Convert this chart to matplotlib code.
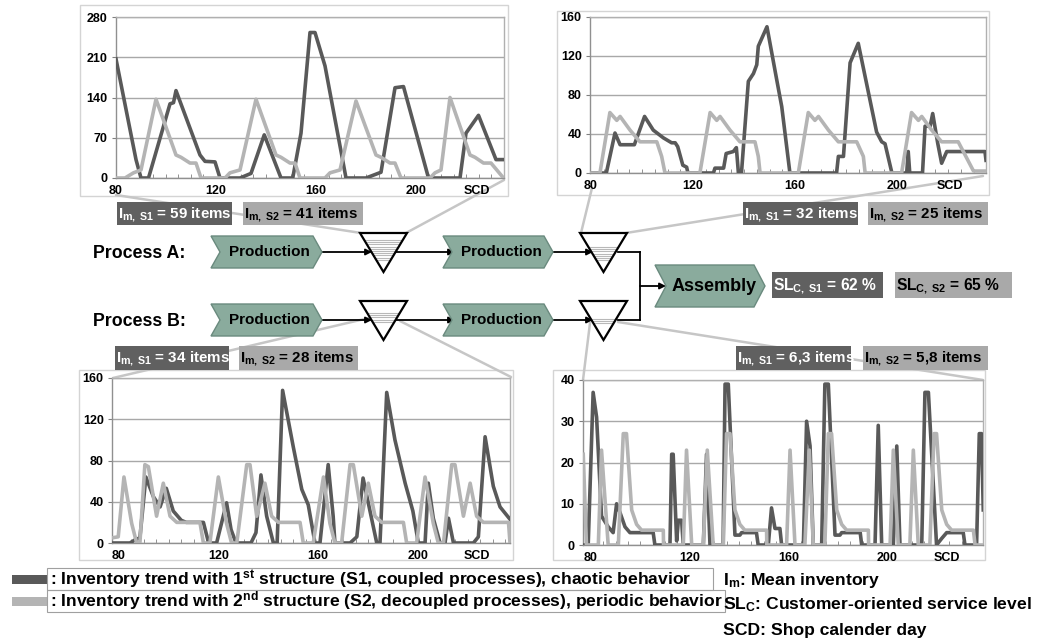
import matplotlib
matplotlib.use('Agg')
import matplotlib.pyplot as plt
from matplotlib.patches import Polygon, Rectangle, FancyArrowPatch
import numpy as np

plt.rcParams['font.family'] = ['Liberation Sans', 'DejaVu Sans']
plt.rcParams['mathtext.fontset'] = 'custom'
plt.rcParams['mathtext.rm'] = 'Liberation Sans'
plt.rcParams['mathtext.bf'] = 'Liberation Sans:bold'
plt.rcParams['mathtext.it'] = 'Liberation Sans:italic'

# ---------------- data ----------------
x_ticks = [80, 120, 160, 200]
x_tick_labels = ['80', '120', '160', '200']
scd_label = 'SCD'

# Process A, buffer 1 (top-left)
tl_s1_day = [80, 88, 90, 93, 101.6, 103, 104, 113.6, 115.6, 119.6, 121.6, 129.6, 134, 139.3, 146, 150.7, 154, 157.6,
             159.6, 163.6, 172, 180, 186, 191.6, 195, 205, 217.6, 220, 225, 232, 235]
tl_s1_val = [207, 32, 0, 0, 129, 131, 152, 40, 29, 28, 0, 0, 8, 75, 0, 0, 78, 253,
             253, 195, 0, 0, 10, 157, 159, 0, 0, 78, 109, 32, 32]
tl_s2_day = [80, 83.6, 87, 90, 96, 104, 106, 109.6, 112, 114, 123.6, 125.6, 129.6, 136, 144, 146, 149.6, 151.6, 153.6,
             163.6, 165.6, 169.6, 176, 184, 186, 189.6, 191.6, 194, 205.6, 207.6, 210, 213.6, 221.6, 223.6, 227, 230, 235]
tl_s2_val = [0, 0, 9, 14, 137, 40, 36, 26, 26, 0, 0, 9, 14, 137, 40, 36, 26, 26, 0,
             0, 9, 14, 134, 40, 36, 26, 26, 0, 0, 9, 14, 140, 40, 36, 26, 26, 0]

# Process A, buffer 2 (top-right)
tr_s1_day = [79.6, 86, 89.4, 91.4, 97, 101, 104.4, 108.4, 111.6, 113, 114, 116, 117.5, 118, 128, 128.6, 132, 133,
             135.8, 137, 137.8, 139, 141.7, 143.7, 145, 145.6, 149, 152.8, 154.8, 158, 176.3, 177, 179, 181.6,
             184.8, 192, 194, 195.3, 198, 203.8, 204.4, 205, 210, 211, 213, 214, 216, 217.5, 219.5, 234.5, 234.9]
tr_s1_val = [0, 0, 41, 29, 29, 58, 44, 36, 31, 31, 27, 8, 6, 0, 0, 5, 5, 20,
             22, 26, 0, 0, 94, 102, 111, 130, 150, 96, 68, 0, 0, 17, 17, 113,
             133, 42, 32, 30, 0, 0, 22, 0, 0, 48, 48, 61, 30, 10, 22, 22, 13]
tr_s2_day = [79.6, 83.5, 87.4, 90.1, 91.4, 95.3, 99.2, 105.8, 107.7, 109, 122.7, 126.7, 129.3, 130.6, 134.5, 138.4,
             144.3, 145.6, 146.3, 161.3, 165.2, 167.8, 169.2, 173.1, 177, 184.2, 186.8, 187.5, 201.8, 205.7, 208.4,
             209.7, 213.6, 217.5, 224, 230, 234.9]
tr_s2_val = [0, 0, 62, 54, 58, 44, 32, 32, 17, 0, 0, 62, 54, 58, 44, 32,
             32, 17, 0, 0, 62, 54, 58, 44, 32, 32, 17, 0, 0, 62, 54,
             58, 44, 32, 32, 2, 2]

# Process B, buffer 1 (bottom-left)
bl_s1_day = [77.2, 84.4, 86.4, 88.4, 90.8, 93.8, 96.5, 99, 101.8, 105, 107, 113.9, 116, 119.2, 123.2, 125, 127, 133,
             135, 137, 139.3, 142, 143.5, 145.7, 150, 153.4, 156, 158.7, 160.7, 164, 166, 166.7, 172.8, 175.5, 178,
             180.7, 183.5, 184.8, 187.5, 190.8, 194.9, 198, 200.2, 202.9, 204.2, 206.2, 208.9, 210.9, 212.3, 214.3,
             222.3, 224.3, 227, 230.3, 233, 237]
bl_s1_val = [0, 0, 3, 5, 64, 45, 35, 53, 31, 22, 20, 20, 0, 0, 39, 13, 0, 0,
             10, 66, 26, 0, 0, 148, 93, 52, 37, 0, 0, 76, 26, 0, 0, 6, 63,
             32, 0, 0, 146, 100, 58, 31, 0, 0, 58, 24, 0, 0, 24, 0,
             0, 6, 103, 55, 35, 23]
bl_s2_day = [77.2, 79.7, 82, 85.1, 87.1, 88.4, 90.4, 91.8, 95.1, 97.8, 100.5, 103.2, 112.5, 113.9, 116.5, 119.9,
             123.2, 125.2, 127.3, 131.3, 132.6, 135.3, 138.6, 141.3, 144, 152.7, 154, 158, 162.1, 164.7, 166.7,
             169.4, 172.8, 174.1, 177.5, 180.1, 182.8, 185.5, 194.2, 195.5, 199.5, 202.9, 206.2, 208.2, 210.3,
             213.6, 214.9, 218.3, 221, 223.6, 226.3, 236.4, 237]
bl_s2_val = [5, 6, 64, 19, 0, 0, 76, 74, 26, 58, 26, 20, 20, 0, 0, 64,
             19, 0, 0, 76, 76, 26, 58, 26, 20, 20, 0, 0, 64, 19, 0,
             0, 76, 76, 26, 58, 26, 20, 20, 0, 0, 64, 19, 0, 0,
             76, 76, 26, 58, 26, 20, 20, 0]

# Process B, buffer 2 (bottom-right)
br_s1_day = [76.9, 78.9, 80.9, 82.3, 84.3, 87, 89, 90.4, 91.7, 93.8, 95.8, 105.2, 105.9, 112, 112.7, 113.3, 114.7,
             115.4, 116.7, 117.4, 125.5, 126.8, 128.2, 133.5, 134.3, 135.6, 138.3, 140.3, 141, 147, 147.7, 151.8,
             153.1, 154.5, 156.5, 157.2, 166, 167.3, 168.7, 170, 173.4, 174.7, 176.1, 178.8, 180.8, 181.5, 189,
             189.6, 195, 196.3, 197.7, 202.4, 203.8, 205.1, 213.9, 215.2, 216.6, 219.9, 222, 224, 230.7, 231.4,
             236.1, 237.2, 238.1, 238.8]
br_s1_val = [0, 0, 37, 31, 7, 4.4, 3, 10, 8, 4.4, 3, 3, 0, 0, 22, 22, 1,
             6, 6, 0, 0, 22, 0, 0, 39, 39, 2.4, 2.4, 3, 3, 0, 0,
             9, 4, 4, 0, 0, 30, 24, 0, 0, 39, 39, 2.4, 2.4, 3, 3,
             0, 0, 29, 0, 0, 24, 0, 0, 37, 37, 0, 1.6, 3, 3, 0,
             0, 27, 27, 8.5]
br_s2_day = [76.9, 78.2, 83, 84.3, 87, 91.1, 93.1, 94.4, 96.5, 98.5, 100.5, 109.3, 109.4, 117.4, 118.7, 120.8,
             125.5, 127.1, 129.5, 133.6, 134.9, 136.3, 138.3, 140.3, 142.3, 151.1, 151.2, 159.2, 160.6, 162.6,
             166.6, 168.4, 170, 174.7, 176.1, 177.4, 179.5, 181.5, 183.5, 192.3, 192.4, 201.1, 202.4, 204.4,
             209.1, 210.5, 212.5, 217.2, 218.9, 219.9, 222, 224, 226, 234.8, 235.5, 238.8]
br_s2_val = [22, 0, 0, 23, 0, 0, 27, 27, 8.5, 5, 3.6, 3.6, 0, 0, 23, 0,
             0, 23, 0, 0, 27, 27, 8.5, 5, 3.6, 3.6, 0, 0, 23, 0,
             0, 23, 0, 0, 27, 27, 8.5, 5, 3.6, 3.6, 0, 0, 23, 0,
             0, 23, 0, 0, 27, 27, 8.5, 5, 3.6, 3.6, 0, 0]

im_labels = {
    'tl': (r'I$_{\mathbf{m,\ S1}}$ = 59 items', r'I$_{\mathbf{m,\ S2}}$ = 41 items'),
    'tr': (r'I$_{\mathbf{m,\ S1}}$ = 32 items', r'I$_{\mathbf{m,\ S2}}$ = 25 items'),
    'bl': (r'I$_{\mathbf{m,\ S1}}$ = 34 items', r'I$_{\mathbf{m,\ S2}}$ = 28 items'),
    'br': (r'I$_{\mathbf{m,\ S1}}$ = 6,3 items', r'I$_{\mathbf{m,\ S2}}$ = 5,8 items'),
}
sl_labels = (r'SL$_{\mathbf{C,\ S1}}$ = 62 %', r'SL$_{\mathbf{C,\ S2}}$ = 65 %')
legend_s1 = r': Inventory trend with 1$^{\mathbf{st}}$ structure (S1, coupled processes), chaotic behavior'
legend_s2 = r': Inventory trend with 2$^{\mathbf{nd}}$ structure (S2, decoupled processes), periodic behavior'
legend_right = [r'I$_{\mathbf{m}}$: Mean inventory', r'SL$_{\mathbf{C}}$: Customer-oriented service level',
                'SCD: Shop calender day']

# ---------------- style ----------------
DARK = '#595959'
LIGHT = '#b4b4b4'
BOX_DARK = '#606060'
BOX_LIGHT = '#a9a9a9'
CHEV = '#8aab9d'
CHEV_EDGE = '#6a8a7e'
CONN = '#c6c6c6'

W, H = 1043, 644
fig = plt.figure(figsize=(W / 100, H / 100), dpi=100)


def frect(x0, y0, x1, y1):
    return [x0 / W, 1 - y1 / H, (x1 - x0) / W, (y1 - y0) / H]


bg = fig.add_axes([0, 0, 1, 1], zorder=0)
bg.set_xlim(0, W); bg.set_ylim(H, 0); bg.axis('off')
fg = fig.add_axes([0, 0, 1, 1], zorder=5)
fg.set_xlim(0, W); fg.set_ylim(H, 0); fg.axis('off')
fg.patch.set_alpha(0)

# chart outer frames
for (x0, y0, x1, y1) in [(80, 5, 508, 196), (557, 11, 989, 195), (79, 370, 513, 560), (553, 370, 985, 560)]:
    bg.add_patch(Rectangle((x0, y0), x1 - x0, y1 - y0, facecolor='white', edgecolor='#d4d4d4', lw=1.0, zorder=1))

# connector lines
for (a, b) in [((116, 195), (361, 233)), ((504, 180), (406, 233)),
               ((592, 188), (581, 233)), ((983, 176), (626, 233)),
               ((113, 378), (373, 317)), ((511, 377), (400, 321)),
               ((583, 380), (590, 323)), ((983, 380), (618, 322))]:
    bg.plot([a[0], b[0]], [a[1], b[1]], color=CONN, lw=1.8, zorder=2, solid_capstyle='round')


def chart(px, xlim, ymax, ystep, d1, v1, d2, v2, scd_x):
    ax = fig.add_axes(frect(*px), zorder=2)
    ax.set_facecolor('white')
    ax.plot(d1, v1, color=DARK, lw=2.6, zorder=3, solid_joinstyle='round', clip_on=True)
    ax.plot(d2, v2, color=LIGHT, lw=2.6, zorder=4, solid_joinstyle='round', clip_on=True)
    ax.set_xlim(*xlim)
    ax.set_ylim(0, ymax)
    ax.set_yticks(np.arange(0, ymax + 1, ystep))
    ax.set_xticks(x_ticks + [scd_x])
    ax.set_xticklabels(x_tick_labels + [scd_label])
    ax.set_xticks(np.arange(80, xlim[1], 5), minor=True)
    ax.tick_params(axis='x', which='major', length=0, pad=5, labelsize=9)
    ax.tick_params(axis='x', which='minor', length=3, direction='in', color='#808080')
    ax.tick_params(axis='y', length=3, direction='out', color='#808080', pad=3, labelsize=9)
    for lab in ax.get_xticklabels() + ax.get_yticklabels():
        lab.set_fontweight('bold')
    ax.grid(axis='y', color='#a8a8a8', lw=1.0)
    ax.set_axisbelow(True)
    for s in ax.spines.values():
        s.set_color('#b0b0b0'); s.set_linewidth(1.0)
    ax.spines['bottom'].set_color('#909090')
    ax.spines['left'].set_color('#909090')
    return ax


chart((116, 17, 504, 178), (80, 235.2), 280, 70, tl_s1_day, tl_s1_val, tl_s2_day, tl_s2_val, 224.4)
chart((590, 17, 986, 173), (79.6, 234.9), 160, 40, tr_s1_day, tr_s1_val, tr_s2_day, tr_s2_val, 220.8)
chart((112, 378, 510, 543), (77.2, 237.0), 160, 40, bl_s1_day, bl_s1_val, bl_s2_day, bl_s2_val, 223.8)
chart((583, 380, 983, 545), (76.8, 238.7), 40, 10, br_s1_day, br_s1_val, br_s2_day, br_s2_val, 224.0)


# ---------------- boxes ----------------
def box(x0, y0, x1, y1, fc, text, tc, size=10.9):
    fg.add_patch(Rectangle((x0, y0), x1 - x0, y1 - y0, facecolor=fc, edgecolor='none', zorder=3))
    fg.text(x0 + 1, (y0 + y1) / 2 + 1, text, color=tc, fontsize=size, fontweight='bold',
            ha='left', va='center', zorder=4)


box(117, 202, 232, 225, BOX_DARK, im_labels['tl'][0], 'white')
box(243, 202, 363, 225, BOX_LIGHT, im_labels['tl'][1], 'black')
box(743, 202, 858, 225, BOX_DARK, im_labels['tr'][0], 'white')
box(868, 202, 988, 225, BOX_LIGHT, im_labels['tr'][1], 'black')
box(115, 346, 229, 370, BOX_DARK, im_labels['bl'][0], 'white')
box(239, 346, 358, 370, BOX_LIGHT, im_labels['bl'][1], 'black')
box(736, 346, 851, 370, BOX_DARK, im_labels['br'][0], 'white')
box(863, 346, 988, 370, BOX_LIGHT, im_labels['br'][1], 'black')
box(772, 272, 883, 298, BOX_DARK, sl_labels[0], 'white', 11.2)
box(895, 272, 1012, 298, BOX_LIGHT, sl_labels[1], 'black', 11.2)


# ---------------- process diagram ----------------
def chevron(x0, x1, y0, y1, d, text, size):
    ym = (y0 + y1) / 2
    pts = [(x0, y0), (x1 - d, y0), (x1, ym), (x1 - d, y1), (x0, y1), (x0 + d, ym)]
    fg.add_patch(Polygon(pts, closed=True, facecolor=CHEV, edgecolor=CHEV_EDGE, lw=1.0, zorder=3))
    fg.text((x0 + x1) / 2 + d / 3, ym, text, fontsize=size, fontweight='bold', ha='center', va='center', zorder=4)


def buffer(xl, xr, yt, yb, f0, f1):
    xc = (xl + xr) / 2
    fg.add_patch(Polygon([(xl, yt), (xr, yt), (xc, yb)], closed=True, facecolor='white',
                         edgecolor='none', zorder=3))
    for y in np.arange(f0, f1, 2.2):
        hw = (xr - xl) / 2 * (yb - y) / (yb - yt)
        fg.plot([xc - hw + 1, xc + hw - 1], [y, y], color='#b8b8b8', lw=0.8, zorder=3.5)
    fg.add_patch(Polygon([(xl, yt), (xr, yt), (xc, yb)], closed=True, facecolor='none',
                         edgecolor='black', lw=1.6, zorder=4))


def arrow(a, b):
    fg.add_patch(FancyArrowPatch(a, b, arrowstyle='-|>', mutation_scale=9, color='black', lw=1.3,
                                 shrinkA=0, shrinkB=0, zorder=2))


fg.text(93, 253, 'Process A:', fontsize=12.8, fontweight='bold', ha='left', va='center')
fg.text(93, 321, 'Process B:', fontsize=12.8, fontweight='bold', ha='left', va='center')

for yc, fills in [(252, ((240, 262), (247, 262))), (320, ((313, 322), (319, 324)))]:
    y0, y1 = yc - 16, yc + 16
    arrow((322, yc), (372, yc))
    arrow((392, yc), (455, yc))
    arrow((553, yc), (593, yc))
    fg.plot([618, 640], [yc, yc], color='black', lw=1.3, zorder=2)
    chevron(211, 322, y0, y1, 9, 'Production', 11)
    chevron(443, 553, y0, y1, 9, 'Production', 11)
    buffer(360, 407, yc - 19, yc + 20, *fills[0])
    buffer(580, 627, yc - 19, yc + 20, *fills[1])

fg.plot([640, 640], [252, 320], color='black', lw=1.3, zorder=2)
arrow((640, 286), (666, 286))
chevron(655, 765, 265, 307, 11, 'Assembly', 13)

# ---------------- legend ----------------
fg.add_patch(Rectangle((12, 575), 35, 9, facecolor=DARK, edgecolor='none'))
fg.add_patch(Rectangle((12, 597), 35, 9, facecolor=LIGHT, edgecolor='none'))
fg.add_patch(Rectangle((47, 568), 666, 22, facecolor='none', edgecolor='#a0a0a0', lw=0.8))
fg.add_patch(Rectangle((47, 590), 678, 22, facecolor='none', edgecolor='#a0a0a0', lw=0.8))
fg.text(50, 580, legend_s1, fontsize=12.6, fontweight='bold', ha='left', va='center')
fg.text(50, 601, legend_s2, fontsize=12.6, fontweight='bold', ha='left', va='center')
for i, t in enumerate(legend_right):
    fg.text(723, 580 + 25 * i, t, fontsize=12.6, fontweight='bold', ha='left', va='center')

fig.savefig('out.png', dpi=100)
